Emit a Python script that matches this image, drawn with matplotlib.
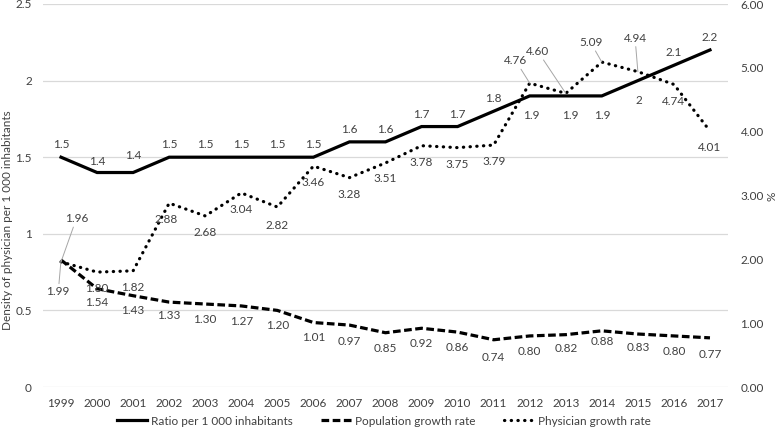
import matplotlib
matplotlib.use("Agg")
import matplotlib.pyplot as plt

years = list(range(1999, 2018))
ratio = [1.5, 1.4, 1.4, 1.5, 1.5, 1.5, 1.5, 1.5, 1.6, 1.6, 1.7, 1.7, 1.8, 1.9, 1.9, 1.9, 2, 2.1, 2.2]
ratio_labels = ["1.5", "1.4", "1.4", "1.5", "1.5", "1.5", "1.5", "1.5", "1.6", "1.6", "1.7", "1.7",
                "1.8", "1.9", "1.9", "1.9", "2", "2.1", "2.2"]
pop_growth = [1.99, 1.54, 1.43, 1.33, 1.30, 1.27, 1.20, 1.01, 0.97, 0.85, 0.92, 0.86, 0.74, 0.80,
              0.82, 0.88, 0.83, 0.80, 0.77]
phys_growth = [1.96, 1.80, 1.82, 2.88, 2.68, 3.04, 2.82, 3.46, 3.28, 3.51, 3.78, 3.75, 3.79, 4.76,
               4.60, 5.09, 4.94, 4.74, 4.01]

# label offsets in points (dx, dy)
ratio_off = [(0, 9), (0, 8), (0, 12), (0, 9), (0, 9), (0, 9), (0, 9), (0, 9), (0, 9), (0, 9), (0, 9),
             (0, 9), (0, 9), (1, -14), (3, -14), (0, -14), (1, -14), (0, 9), (0, 9)]
pop_off = [(-2, -23), (0, -10), (0, -11), (0, -10), (0, -11), (0, -11), (0, -11), (0, -11), (0, -12),
           (0, -11), (0, -11), (0, -11), (0, -13), (0, -11), (0, -10), (0, -8), (0, -10), (0, -11), (0, -12)]
phys_off = [(11, 31), (0, -12), (0, -12), (-2, -12), (0, -12), (0, -12), (0, -13), (0, -12), (0, -12),
            (0, -11), (0, -12), (0, -12), (0, -12), (-10, 16), (-20, 30), (-8, 14), (-2, 24), (0, -12), (0, -12)]
leader = [True, False, False, False, False, False, False, False, False, False, False, False, False,
          True, True, True, True, False, False]

font = "Lato"
tc = "#404040"
fs = 8.5
fig = plt.figure(figsize=(7.78, 4.36), dpi=100)
ax = fig.add_axes([43 / 778, 1 - 387 / 436, 685 / 778, 383 / 436])
ax2 = ax.twinx()

ax.set_ylim(0, 2.5)
ax2.set_ylim(0, 6)
ax.set_xlim(1998.5, 2017.5)
ax.set_yticks([0, 0.5, 1, 1.5, 2, 2.5])
ax.set_yticklabels(["0", "0.5", "1", "1.5", "2", "2.5"])
ax2.set_yticks([0, 1, 2, 3, 4, 5, 6])
ax2.set_yticklabels([f"{v:.2f}" for v in range(7)])
ax.set_xticks(years)
ax.grid(axis="y", color="#d9d9d9", linewidth=0.9)
ax.set_axisbelow(True)
for a in (ax, ax2):
    for s in a.spines.values():
        s.set_visible(False)
    a.tick_params(length=0, labelsize=fs, labelcolor=tc)
    for lab in a.get_xticklabels() + a.get_yticklabels():
        lab.set_family(font)
ax.tick_params(axis="x", pad=8)
ax.tick_params(axis="y", pad=8)
ax2.tick_params(axis="y", pad=9)

l1, = ax.plot(years, ratio, color="black", lw=2.3, solid_joinstyle="miter", label="Ratio per 1 000 inhabitants")
l2, = ax2.plot(years, pop_growth, color="black", lw=2.3, dashes=(2.4, 1.1), label="Population growth rate")
l3, = ax2.plot(years, phys_growth, color="black", lw=2.3, linestyle=(0, (0.1, 2.0)), dash_capstyle="round",
               label="Physician growth rate")

def labels(a, ys, texts, offs, leaders=None):
    for i, (x, y, t, o) in enumerate(zip(years, ys, texts, offs)):
        kw = {}
        if leaders is not None and leaders[i]:
            kw["arrowprops"] = dict(arrowstyle="-", color="#a6a6a6", lw=0.7, shrinkA=0, shrinkB=0)
        a.annotate(t, (x, y), xytext=o, textcoords="offset points", ha="center", va="center",
                   fontsize=fs, family=font, color=tc, **kw)

labels(ax, ratio, ratio_labels, ratio_off)
labels(ax2, pop_growth, [f"{v:.2f}" for v in pop_growth], pop_off, [True] + [False] * 18)
labels(ax2, phys_growth, [f"{v:.2f}" for v in phys_growth], phys_off, leader)

fig.text(8 / 778, 1 - 220 / 436, "Density of physician per 1 000 inhabitants", rotation=90,
         ha="center", va="center", fontsize=fs, family=font, color=tc)
fig.text(772 / 778, 1 - 196 / 436, "%", rotation=90, ha="center", va="center",
         fontsize=fs, family=font, color=tc)

fig.legend(handles=[l1, l2, l3], loc="center", bbox_to_anchor=(384 / 778, 1 - 421 / 436), ncol=3,
           frameon=False, prop={"family": font, "size": fs}, labelcolor=tc, handlelength=2.6,
           columnspacing=2.4, handletextpad=0.3)

fig.savefig("out.png", dpi=100)
